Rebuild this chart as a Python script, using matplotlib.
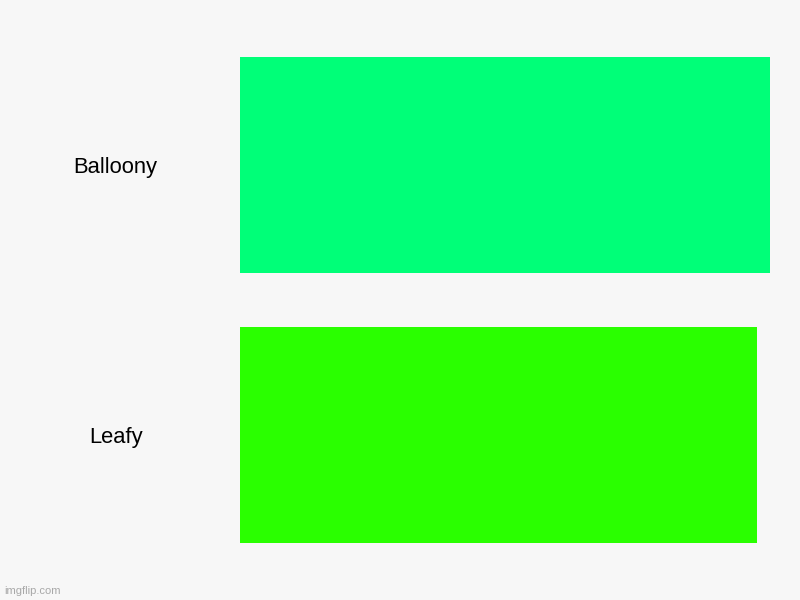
import matplotlib.pyplot as plt
from matplotlib.transforms import blended_transform_factory

# data
labels = ['Balloony', 'Leafy']
values = [100, 97.5]
colors = ['#00ff78', '#2aff00']

plt.rcParams['font.family'] = ['Liberation Sans', 'DejaVu Sans']

fig = plt.figure(figsize=(8, 6), dpi=100)
fig.patch.set_facecolor('#f7f7f7')
ax = fig.add_axes([0.3, 0.095, 0.6625, 0.81])
ax.set_facecolor('#f7f7f7')

pos = list(range(len(labels)))[::-1]
ax.barh(pos, values, height=0.8, color=colors)
ax.set_xlim(0, 100)
ax.set_ylim(-0.4, 1.4)
ax.axis('off')

# category labels to the left of the bars
tr = blended_transform_factory(fig.transFigure, ax.transData)
for p, lab in zip(pos, labels):
    ax.text(0.1445, p - 0.008, lab, transform=tr, ha='center', va='center',
            fontsize=15.8, color='#000000')

fig.text(0.005, 0.015, 'imgflip.com', fontsize=8, color='#a8a8a8',
         ha='left', va='center')

fig.savefig('out.png', dpi=100, facecolor=fig.get_facecolor())
